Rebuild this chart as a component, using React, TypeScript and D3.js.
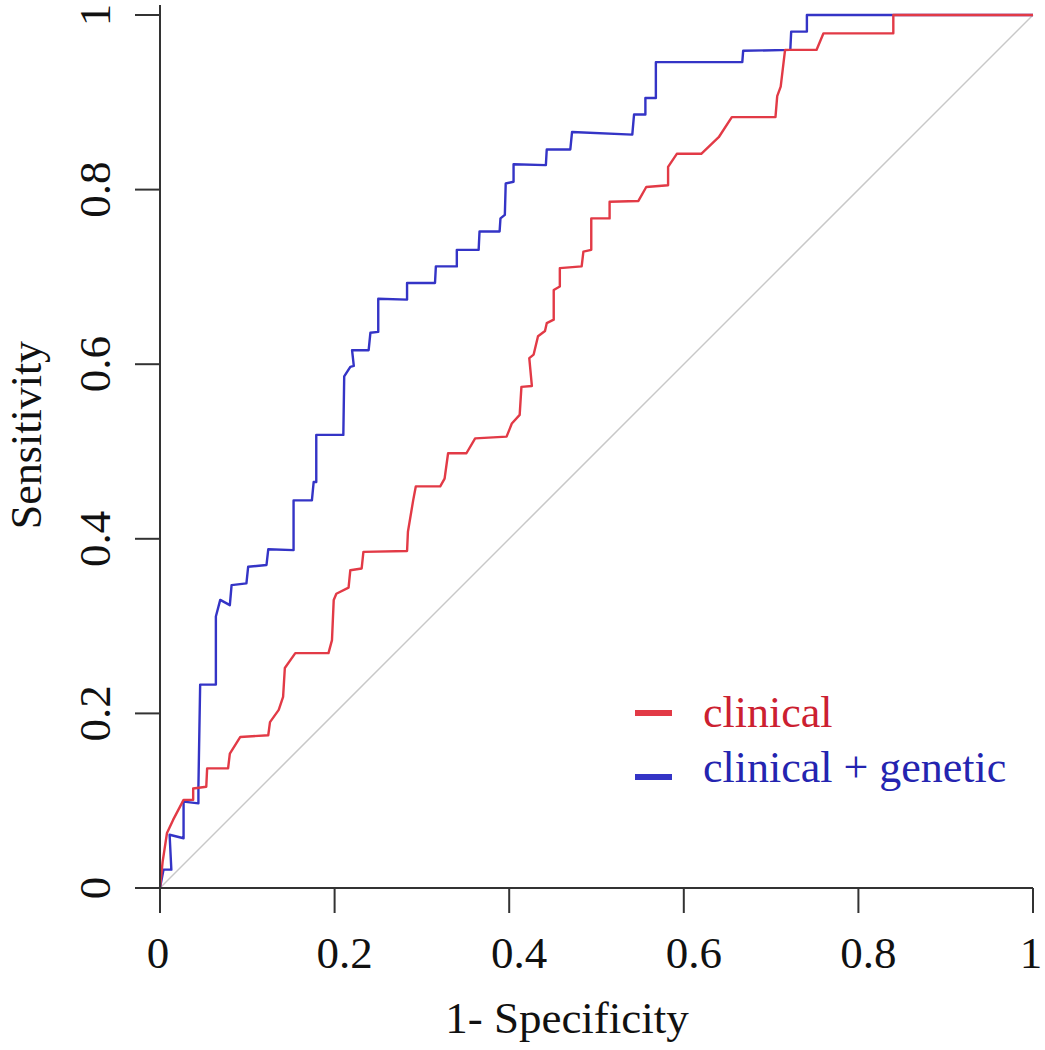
import React from "react";
import * as d3 from "d3";

const xTicks = [0, 0.2, 0.4, 0.6, 0.8, 1];
const yTicks = [0, 0.2, 0.4, 0.6, 0.8, 1];
const xTickLabels = ["0", "0.2", "0.4", "0.6", "0.8", "1"];
const yTickLabels = ["0", "0.2", "0.4", "0.6", "0.8", "1"];

const seriesNames = ["clinical", "clinical + genetic"];

const clinicalFpr = [
  0, 0.003, 0.008, 0.015, 0.027, 0.038, 0.038, 0.053, 0.054, 0.078, 0.08, 0.092, 0.124, 0.126,
  0.136, 0.141, 0.143, 0.155, 0.193, 0.197, 0.199, 0.202, 0.216, 0.218, 0.231, 0.233, 0.283,
  0.284, 0.29, 0.293, 0.321, 0.326, 0.33, 0.351, 0.361, 0.397, 0.403, 0.412, 0.414, 0.426,
  0.423, 0.428, 0.433, 0.441, 0.443, 0.451, 0.451, 0.458, 0.458, 0.483, 0.485, 0.494, 0.494,
  0.515, 0.515, 0.548, 0.557, 0.582, 0.582, 0.592, 0.62, 0.64, 0.655, 0.705, 0.707, 0.711,
  0.716, 0.752, 0.76, 0.84, 0.84, 1,
];
const clinicalTpr = [
  0, 0.03, 0.063, 0.078, 0.101, 0.101, 0.114, 0.116, 0.137, 0.137, 0.154, 0.173, 0.175, 0.19,
  0.204, 0.219, 0.252, 0.269, 0.269, 0.284, 0.33, 0.337, 0.344, 0.364, 0.366, 0.385, 0.386,
  0.408, 0.444, 0.46, 0.46, 0.469, 0.498, 0.498, 0.515, 0.517, 0.532, 0.542, 0.574, 0.575,
  0.607, 0.611, 0.632, 0.638, 0.647, 0.651, 0.685, 0.689, 0.71, 0.712, 0.729, 0.731, 0.767,
  0.767, 0.786, 0.787, 0.803, 0.805, 0.826, 0.841, 0.841, 0.86, 0.883, 0.883, 0.907, 0.918,
  0.96, 0.96, 0.979, 0.979, 1, 1,
];

const combinedFpr = [
  0, 0.004, 0.013, 0.011, 0.027, 0.027, 0.044, 0.044, 0.046, 0.064, 0.064, 0.069, 0.08, 0.082,
  0.099, 0.101, 0.122, 0.124, 0.153, 0.153, 0.174, 0.176, 0.179, 0.179, 0.21, 0.211, 0.218,
  0.222, 0.22, 0.239, 0.241, 0.25, 0.25, 0.283, 0.283, 0.315, 0.316, 0.34, 0.34, 0.365, 0.366,
  0.389, 0.39, 0.395, 0.396, 0.405, 0.405, 0.442, 0.443, 0.47, 0.472, 0.541, 0.543, 0.556,
  0.556, 0.568, 0.568, 0.667, 0.668, 0.722, 0.723, 0.741, 0.741, 1,
];
const combinedTpr = [
  0, 0.021, 0.021, 0.061, 0.057, 0.099, 0.097, 0.116, 0.233, 0.233, 0.311, 0.33, 0.324, 0.347,
  0.349, 0.368, 0.37, 0.388, 0.387, 0.444, 0.444, 0.465, 0.465, 0.519, 0.519, 0.586, 0.597,
  0.598, 0.616, 0.616, 0.636, 0.637, 0.675, 0.674, 0.693, 0.693, 0.712, 0.712, 0.731, 0.731,
  0.752, 0.752, 0.767, 0.771, 0.807, 0.809, 0.829, 0.828, 0.846, 0.846, 0.866, 0.863, 0.886,
  0.886, 0.905, 0.905, 0.946, 0.946, 0.959, 0.96, 0.981, 0.981, 1, 1,
];

const W = 1045;
const H = 1050;
const LEFT = 160;
const RIGHT = 1033;
const TOP = 15;
const BOTTOM = 888;

const FONT = "'Liberation Serif', 'Times New Roman', serif";
const RED = "#e23a46";
const BLUE = "#3434c6";
const RED_TEXT = "#cc2030";
const BLUE_TEXT = "#2424b0";

export default function App() {
  const x = d3.scaleLinear().domain([0, 1]).range([LEFT, RIGHT]);
  const y = d3.scaleLinear().domain([0, 1]).range([BOTTOM, TOP]);

  const line = d3
    .line<[number, number]>()
    .x((d) => x(d[0]))
    .y((d) => y(d[1]));

  const clinical = clinicalFpr.map((v, i) => [v, clinicalTpr[i]] as [number, number]);
  const combined = combinedFpr.map((v, i) => [v, combinedTpr[i]] as [number, number]);

  const axisColor = "#333";

  return (
    <svg
      width={W}
      height={H}
      viewBox={`0 0 ${W} ${H}`}
      style={{ position: "absolute", left: 0, top: 0, background: "#fff" }}
    >
      <rect x={0} y={0} width={W} height={H} fill="#fff" />
      {/* diagonal reference */}
      <path d={line([[0, 0], [1, 1]]) || ""} stroke="#c8c8c8" strokeWidth={1.5} fill="none" />

      {/* curves */}
      <path d={line(combined) || ""} stroke={BLUE} strokeWidth={2.4} fill="none" strokeLinejoin="round" />
      <path d={line(clinical) || ""} stroke={RED} strokeWidth={2.4} fill="none" strokeLinejoin="round" />

      {/* x axis */}
      <line x1={x(0)} x2={x(1)} y1={BOTTOM} y2={BOTTOM} stroke={axisColor} strokeWidth={2} />
      {xTicks.map((t, i) => (
        <g key={"xt" + i}>
          <line x1={x(t)} x2={x(t)} y1={BOTTOM} y2={BOTTOM + 25} stroke={axisColor} strokeWidth={2} />
          <text
            x={x(t) + (xTickLabels[i].length > 1 ? 10 : -2)}
            y={968}
            textAnchor="middle"
            fontFamily={FONT}
            fontSize={45}
            fill="#111"
          >
            {xTickLabels[i]}
          </text>
        </g>
      ))}

      {/* y axis */}
      <line x1={LEFT} x2={LEFT} y1={BOTTOM} y2={5} stroke={axisColor} strokeWidth={2} />
      {yTicks.map((t, i) => (
        <g key={"yt" + i}>
          <line x1={LEFT - 25} x2={LEFT} y1={y(t)} y2={y(t)} stroke={axisColor} strokeWidth={2} />
          <text
            transform={`translate(110, ${y(t)}) rotate(-90)`}
            textAnchor="middle"
            fontFamily={FONT}
            fontSize={45}
            fill="#111"
          >
            {yTickLabels[i]}
          </text>
        </g>
      ))}

      {/* axis titles */}
      <text x={567} y={1033} textAnchor="middle" fontFamily={FONT} fontSize={45} fill="#111">
        1- Specificity
      </text>
      <text
        transform="translate(41, 435) rotate(-90)"
        textAnchor="middle"
        fontFamily={FONT}
        fontSize={44}
        fill="#111"
      >
        Sensitivity
      </text>

      {/* legend */}
      <line x1={635} x2={672} y1={713} y2={713} stroke={RED} strokeWidth={6} />
      <text x={703} y={727} fontFamily={FONT} fontSize={44} fill={RED_TEXT}>
        {seriesNames[0]}
      </text>
      <line x1={635} x2={672} y1={777} y2={777} stroke={BLUE} strokeWidth={6} />
      <text x={703} y={782} fontFamily={FONT} fontSize={44} fill={BLUE_TEXT}>
        {seriesNames[1]}
      </text>
    </svg>
  );
}
